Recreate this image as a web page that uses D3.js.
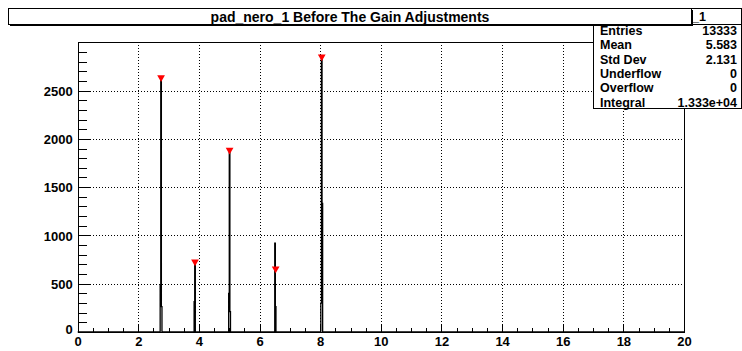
<!DOCTYPE html>
<html>
<head>
<meta charset="utf-8">
<script src="https://cdn.jsdelivr.net/npm/d3@7"></script>
<style>
  html, body { margin: 0; padding: 0; background: #fff; }
  svg { display: block; font-family: "Liberation Sans", Arial, Helvetica, sans-serif; }
</style>
</head>
<body>
<svg id="chart" width="742" height="351"></svg>
<script>
// Histogram: 1000 bins over [0, 20); only the filled bins are listed.
const binWidth = 0.02;
const binCenters = [2.73, 2.75, 2.77,   3.85, 3.87,   4.99, 5.01, 5.03,   6.51, 6.53,   8.03, 8.05, 8.07];
const binCounts  = [486, 2640, 262,     314,  730,    400,  1890, 210,    920,  262,    300,  2860, 1332];

// Peak-finder markers
const markerX = [2.75, 3.87, 5.01, 6.53, 8.05];
const markerY = [2636, 728, 1884, 655, 2850];

// Axis ticks
const xTicks = [0, 2, 4, 6, 8, 10, 12, 14, 16, 18, 20];
const yTicks = [0, 500, 1000, 1500, 2000, 2500];
const xDomain = [0, 20];
const yDomain = [0, 3003];

// Statistics box
const histName = "pad_nero_1";
const titleText = "pad_nero_1 Before The Gain Adjustments";
const statLabels = ["Entries", "Mean", "Std Dev", "Underflow", "Overflow", "Integral"];
const statValues = ["13333", "5.583", "2.131", "0", "0", "1.333e+04"];

const svg = d3.select("#chart");
const frame = { left: 77.7, right: 684, top: 42, bottom: 332 };

const x = d3.scaleLinear().domain(xDomain).range([frame.left, frame.right]);
const y = d3.scaleLinear().domain(yDomain).range([frame.bottom, frame.top]);

// Grid (dotted)
const grid = svg.append("g").attr("stroke", "#000").attr("stroke-width", 1)
  .attr("stroke-dasharray", "1,2").attr("shape-rendering", "crispEdges");
grid.selectAll("line.gx").data(xTicks.filter(v => v > xDomain[0] && v < xDomain[1]))
  .join("line").attr("class", "gx")
  .attr("x1", d => Math.round(x(d)) + 0.5).attr("x2", d => Math.round(x(d)) + 0.5)
  .attr("y1", frame.top).attr("y2", frame.bottom);
grid.selectAll("line.gy").data(yTicks.filter(v => v > 0))
  .join("line").attr("class", "gy")
  .attr("y1", d => Math.round(y(d)) + 0.5).attr("y2", d => Math.round(y(d)) + 0.5)
  .attr("x1", frame.left).attr("x2", frame.right);

// Histogram outline
const nBins = Math.round((xDomain[1] - xDomain[0]) / binWidth);
const counts = new Array(nBins).fill(0);
binCenters.forEach((c, i) => {
  const k = Math.floor((c - xDomain[0]) / binWidth);
  counts[k] += binCounts[i];
});
let pathD = `M${x(xDomain[0])},${y(0)}`;
let prev = 0;
for (let k = 0; k < nBins; k++) {
  if (counts[k] !== prev) {
    const lo = xDomain[0] + k * binWidth;
    pathD += `L${x(lo)},${y(prev)}L${x(lo)},${y(counts[k])}`;
    prev = counts[k];
  }
}
pathD += `L${x(xDomain[1])},${y(prev)}`;
svg.append("path").attr("d", pathD).attr("fill", "none")
  .attr("stroke", "#000").attr("stroke-width", 1.3);

// Peak markers (filled triangles pointing down)
const tri = d3.symbol().type(d3.symbolTriangle).size(26);
svg.append("g").selectAll("path").data(markerX.map((v, i) => [v, markerY[i]]))
  .join("path")
  .attr("d", tri)
  .attr("transform", d => `translate(${x(d[0])},${y(d[1])}) rotate(180)`)
  .attr("fill", "#ff0000");

// Frame
svg.append("rect")
  .attr("x", Math.round(frame.left) + 0.5).attr("y", frame.top + 0.5)
  .attr("width", Math.round(frame.right) - Math.round(frame.left))
  .attr("height", frame.bottom - frame.top)
  .attr("fill", "none").attr("stroke", "#000").attr("stroke-width", 1)
  .attr("shape-rendering", "crispEdges");

// X axis: ticks point into the frame
const xAxis = d3.axisBottom(x).tickValues(xTicks).tickSize(0).tickPadding(0)
  .tickFormat(d3.format("d"));
const gx = svg.append("g").attr("transform", `translate(0,${frame.bottom})`).call(xAxis);
gx.select(".domain").remove();
gx.selectAll("text").attr("font-size", 13).attr("font-weight", "bold")
  .attr("fill", "#000").attr("dy", "0").attr("y", 13.5)
  .attr("font-family", "Liberation Sans, Arial, sans-serif");
const xMinor = d3.range(xDomain[0], xDomain[1] + 1e-9, 0.5);
svg.append("g").attr("stroke", "#000").attr("shape-rendering", "crispEdges")
  .selectAll("line").data(xMinor).join("line")
  .attr("x1", d => Math.round(x(d)) + 0.5).attr("x2", d => Math.round(x(d)) + 0.5)
  .attr("y1", frame.bottom)
  .attr("y2", d => frame.bottom - (xTicks.includes(d) ? 8 : 4));

// Y axis
const yAxis = d3.axisLeft(y).tickValues(yTicks).tickSize(0).tickPadding(0)
  .tickFormat(d3.format("d"));
const gy = svg.append("g").attr("transform", `translate(${frame.left},0)`).call(yAxis);
gy.select(".domain").remove();
gy.selectAll("text").attr("font-size", 13).attr("font-weight", "bold")
  .attr("fill", "#000").attr("x", -5).attr("dy", "0.36em")
  .attr("font-family", "Liberation Sans, Arial, sans-serif");
gy.selectAll(".tick").filter(d => d === 0).select("text").attr("dy", "0.1em");
const yMinor = d3.range(0, yDomain[1], 100);
svg.append("g").attr("stroke", "#000").attr("shape-rendering", "crispEdges")
  .selectAll("line").data(yMinor).join("line")
  .attr("y1", d => Math.round(y(d)) + 0.5).attr("y2", d => Math.round(y(d)) + 0.5)
  .attr("x1", frame.left)
  .attr("x2", d => frame.left + (yTicks.includes(d) ? 12 : 9));

// Statistics box
const sb = { x: 593.5, y: 8.5, w: 148, h: 100, head: 16 };
const stats = svg.append("g");
stats.append("rect").attr("x", sb.x).attr("y", sb.y).attr("width", sb.w).attr("height", sb.h)
  .attr("fill", "#fff").attr("stroke", "#000").attr("shape-rendering", "crispEdges");
stats.append("line").attr("x1", sb.x).attr("x2", sb.x + sb.w)
  .attr("y1", sb.y + sb.head).attr("y2", sb.y + sb.head).attr("stroke", "#000")
  .attr("shape-rendering", "crispEdges");
stats.append("text").attr("x", 706).attr("y", sb.y + 12)
  .attr("text-anchor", "end").attr("font-size", 12.5).attr("font-weight", "bold")
  .text(histName);
const rowY = d3.scaleLinear().domain([0, statLabels.length - 1]).range([35, 106.5]);
stats.selectAll("text.lab").data(statLabels).join("text").attr("class", "lab")
  .attr("x", 600).attr("y", (d, i) => rowY(i))
  .attr("font-size", 12.5).attr("font-weight", "bold").text(d => d);
stats.selectAll("text.val").data(statValues).join("text").attr("class", "val")
  .attr("x", 737).attr("y", (d, i) => rowY(i)).attr("text-anchor", "end")
  .attr("font-size", 12.5).attr("font-weight", "bold").text(d => d);

// Title box with shadow
const tb = { x: 8.5, y: 8.5, w: 683, h: 16 };
svg.append("rect").attr("x", tb.x + 1).attr("y", tb.y + 1).attr("width", tb.w).attr("height", tb.h)
  .attr("fill", "#000").attr("shape-rendering", "crispEdges");
svg.append("rect").attr("x", tb.x).attr("y", tb.y).attr("width", tb.w).attr("height", tb.h)
  .attr("fill", "#fff").attr("stroke", "#000").attr("shape-rendering", "crispEdges");
svg.append("text").attr("x", tb.x + tb.w / 2).attr("y", tb.y + 13)
  .attr("text-anchor", "middle").attr("font-size", 14).attr("font-weight", "bold")
  .text(titleText);
</script>
</body>
</html>
